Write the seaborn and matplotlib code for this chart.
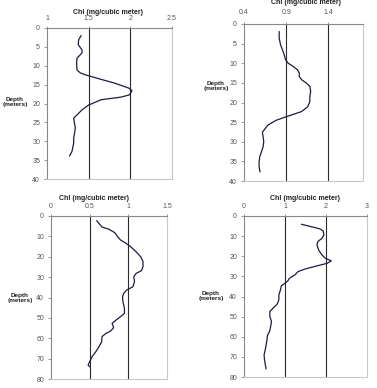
import seaborn as sns
import matplotlib.pyplot as plt

# Chlorophyll depth profiles, four stations
chl_a = [1.41, 1.38, 1.375, 1.42, 1.42, 1.36, 1.355, 1.36, 1.40, 1.46, 1.60, 1.81, 1.98, 2.02,
         1.99, 1.89, 1.65, 1.50, 1.42, 1.36, 1.32, 1.33, 1.34, 1.33, 1.32, 1.32, 1.31, 1.30, 1.27]
depth_a = [2.0, 3.1, 4.4, 5.8, 6.6, 8.0, 9.3, 11.1, 11.9, 12.4, 13.3, 14.6, 15.9, 16.6,
           17.7, 18.3, 19.0, 20.4, 21.7, 23.0, 23.9, 25.2, 26.5, 27.9, 29.2, 30.5, 31.6, 32.7, 33.9]

chl_b = [0.817, 0.817, 0.833, 0.856, 0.876, 0.892, 0.924, 0.983, 1.035, 1.055, 1.055, 1.083,
         1.142, 1.18, 1.19, 1.18, 1.18, 1.154, 1.083, 0.904, 0.785, 0.686, 0.638, 0.618, 0.626,
         0.634, 0.626, 0.606, 0.587, 0.579, 0.579, 0.59]
depth_b = [1.9, 3.6, 5.3, 6.6, 7.8, 9.1, 10.0, 10.8, 11.7, 12.5, 13.4, 14.2,
           15.1, 15.9, 17.2, 18.5, 19.8, 21.1, 22.3, 23.6, 24.5, 25.7, 27.0, 27.6, 28.7,
           30.0, 31.3, 32.6, 33.8, 35.1, 36.4, 37.7]

chl_c = [0.59, 0.66, 0.75, 0.825, 0.86, 0.90, 0.97, 1.03, 1.10, 1.16, 1.19, 1.19, 1.17, 1.10,
         1.07, 1.08, 1.06, 0.98, 0.94, 0.925, 0.93, 0.95, 0.95, 0.90, 0.84, 0.79, 0.81, 0.77,
         0.71, 0.66, 0.655, 0.62, 0.58, 0.53, 0.50, 0.48, 0.50]
depth_c = [2.3, 5.4, 6.5, 8.2, 10.1, 11.8, 13.4, 15.1, 17.5, 20.0, 22.4, 24.9, 26.8, 28.2,
           29.8, 32.2, 34.7, 36.3, 38.0, 39.6, 42.1, 45.3, 47.8, 49.4, 51.1, 52.7, 54.8, 56.5,
           57.6, 59.2, 61.7, 64.2, 66.6, 69.1, 71.5, 73.2, 74.0]

chl_d = [1.40, 1.64, 1.85, 1.93, 1.95, 1.90, 1.80, 1.78, 1.82, 1.90, 1.98, 2.13, 2.03, 1.72,
         1.48, 1.32, 1.24, 1.11, 1.07, 0.98, 0.91, 0.89, 0.85, 0.85, 0.81, 0.71, 0.63, 0.63,
         0.67, 0.65, 0.63, 0.57, 0.56, 0.54, 0.52, 0.49, 0.50, 0.52, 0.54]
depth_d = [4.1, 5.3, 6.4, 7.4, 9.4, 11.1, 12.7, 14.4, 16.9, 19.3, 21.0, 22.3, 23.5, 25.1,
           26.4, 27.6, 29.3, 30.9, 32.2, 33.7, 34.7, 36.7, 39.2, 41.7, 43.8, 45.8, 47.4, 49.9,
           52.4, 54.9, 57.0, 59.5, 61.5, 64.0, 66.4, 68.9, 71.4, 73.9, 76.0]

xticks_a = [1, 1.5, 2, 2.5]
xticks_b = [0.4, 0.9, 1.4]
xticks_c = [0, 0.5, 1, 1.5]
xticks_d = [0, 1, 2, 3]
yticks_shallow = [0, 5, 10, 15, 20, 25, 30, 35, 40]
yticks_deep = [0, 10, 20, 30, 40, 50, 60, 70, 80]

title = "Chl (mg/cubic meter)"
depth_label = "Depth\n(meters)"

W, H = 377, 388
plt.rcParams["figure.dpi"] = 100
sns.set_style("white")
plt.rcParams["font.family"] = ["Liberation Sans", "DejaVu Sans"]

fig = plt.figure(figsize=(W / 100, H / 100))


def px_axes(left, top, right, bottom):
    # axes placed by pixel box of the original image
    return fig.add_axes([left / W, 1 - bottom / H, (right - left) / W, (bottom - top) / H])


def profile(ax, chl, depth, xticks, xlim, yticks, xpad):
    sns.lineplot(x=chl, y=depth, sort=False, estimator=None, ax=ax,
                 color="#1c1c40", linewidth=0.9)
    ax.set_xlim(*xlim)
    ax.set_ylim(yticks[-1], yticks[0])
    ax.set_xticks(xticks)
    ax.set_yticks(yticks)
    ax.set_xticklabels([f"{t:g}" for t in xticks])
    ax.xaxis.tick_top()
    ax.tick_params(axis="x", length=1.5, width=0.6, color="#888888", pad=xpad,
                   labelsize=5, labelcolor="#555555")
    ax.tick_params(axis="y", length=2, width=0.6, color="#888888", pad=3,
                   labelsize=5, labelcolor="#555555", left=True)
    # inner gridlines only, dark as in the original
    for t in xticks:
        if xlim[0] < t < xlim[1] - 1e-9:
            ax.axvline(t, color="#2a2a2a", linewidth=0.8, zorder=1)
    for side in ["top", "left"]:
        ax.spines[side].set_color("#888888")
        ax.spines[side].set_linewidth(0.8)
    for side in ["right", "bottom"]:
        ax.spines[side].set_color("#c8c8c8")
        ax.spines[side].set_linewidth(0.8)
    ax.set_xlabel("")
    ax.set_ylabel("")


ax1 = px_axes(47, 28, 172, 179)
profile(ax1, chl_a, depth_a, xticks_a, (1, 2.5), yticks_shallow, 2.5)
ax2 = px_axes(244, 24, 363, 181)
profile(ax2, chl_b, depth_b, xticks_b, (0.4, 1.81), yticks_shallow, 4.5)
ax3 = px_axes(51, 216, 167, 379)
profile(ax3, chl_c, depth_c, xticks_c, (0, 1.5), yticks_deep, 2.5)
ax4 = px_axes(244, 216, 367, 377)
profile(ax4, chl_d, depth_d, xticks_d, (0, 3), yticks_deep, 2.5)


def label(x, y, s, size=5):
    fig.text(x / W, 1 - y / H, s, ha="center", va="center", fontsize=size,
             fontweight="bold", color="#222222", linespacing=1.2)


label(108, 12, title)
label(306, 3, title)
label(94, 198, title)
label(305, 198, title)
label(15, 102, depth_label, 4.6)
label(216, 86, depth_label, 4.6)
label(20, 298, depth_label, 4.6)
label(211, 296, depth_label, 4.6)

fig.savefig("out.png", dpi=100)
